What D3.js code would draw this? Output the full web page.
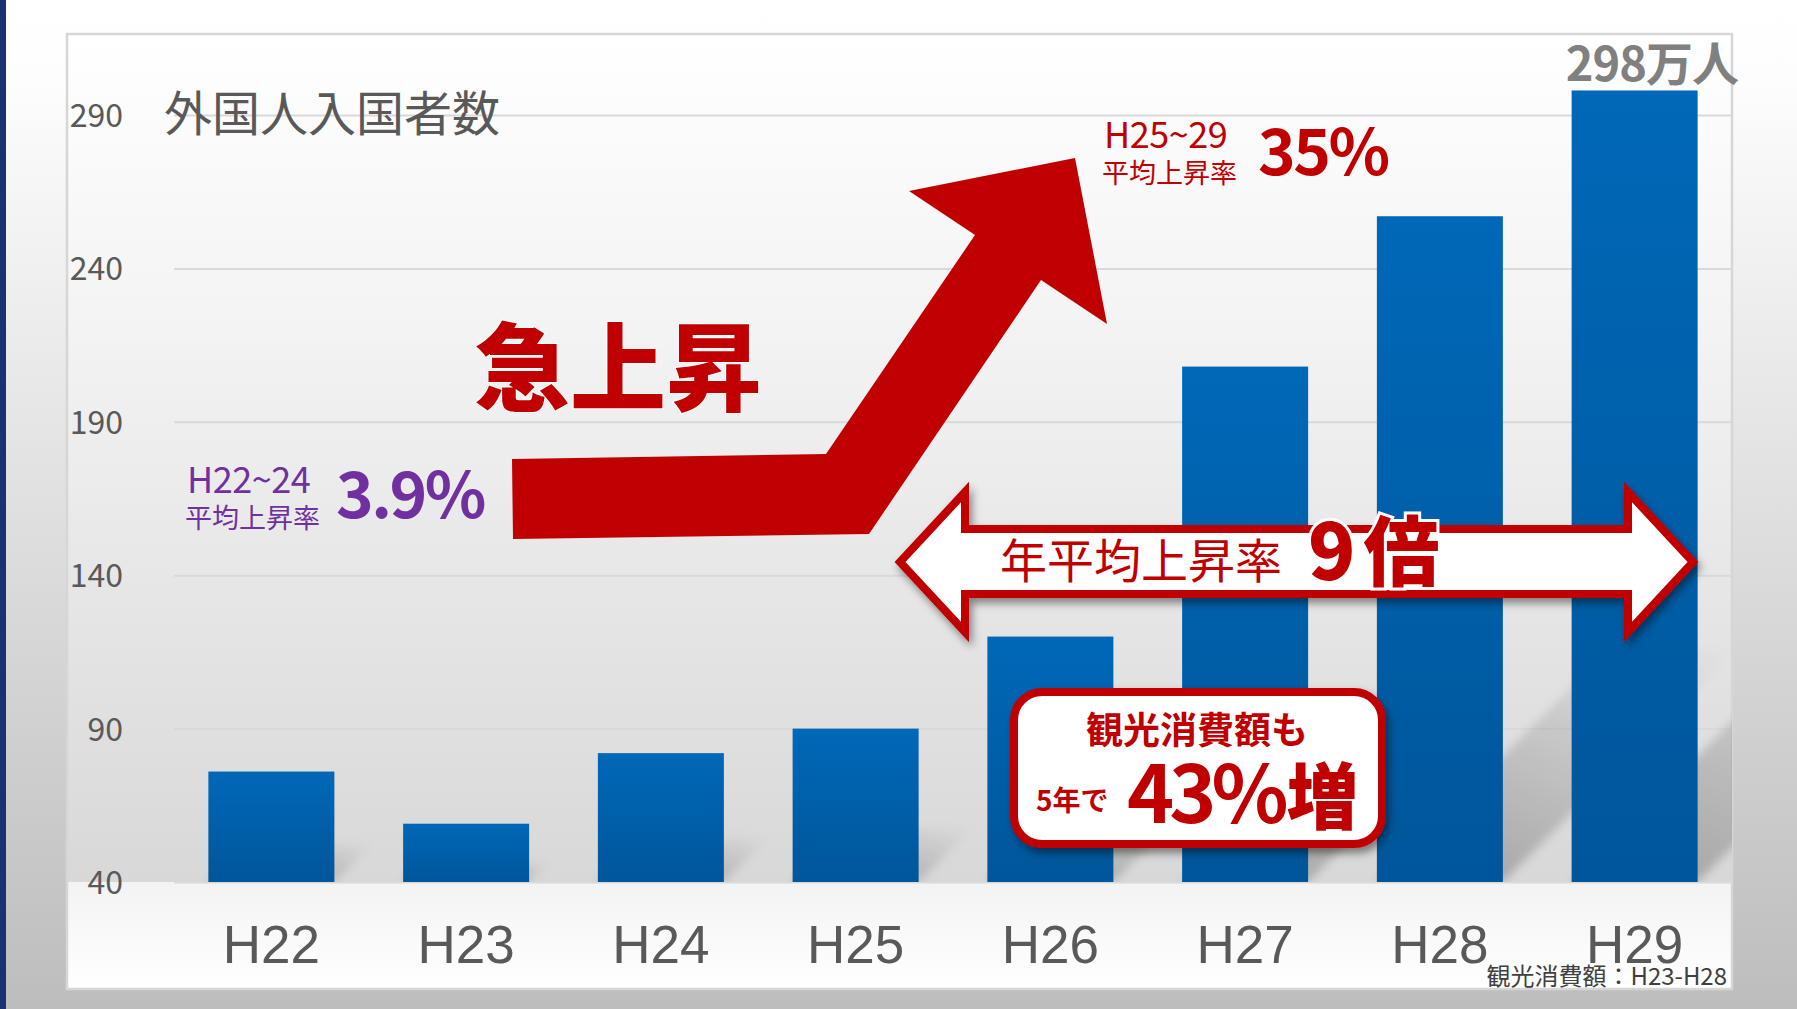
<!DOCTYPE html>
<html><head><meta charset="utf-8">
<script src="https://cdn.jsdelivr.net/npm/d3@7"></script>
<style>html,body{margin:0;padding:0;overflow:hidden;background:#fff}</style>
</head><body>
<svg id="c" width="1797" height="1009"></svg>
<script>
// ---------- data ----------
const categories = ["H22","H23","H24","H25","H26","H27","H28","H29"];
const visitors   = [76, 59, 82, 90, 120, 208, 257, 298];   // 万人
const yTicks     = [40, 90, 140, 190, 240, 290];
const yDomain    = [40, 290];
const titleText  = "外国人入国者数";
const lastLabel  = "298万人";

// ---------- layout ----------
const W = 1797, H = 1009;
const panel = {x: 67, y: 34, w: 1665, h: 955};
const plot  = {x0: 174, x1: 1732, yTop: 115, yBase: 882};
const CJK = "'Noto Sans CJK JP','Noto Sans',sans-serif";
const RED = "#c00000", PURPLE = "#7030a0", GREY = "#595959";

const svg = d3.select("#c");
const defs = svg.append("defs");

function lg(id, stops, x1=0,y1=0,x2=0,y2=1){
  const g = defs.append("linearGradient").attr("id",id)
    .attr("x1",x1).attr("y1",y1).attr("x2",x2).attr("y2",y2);
  stops.forEach(s=>g.append("stop").attr("offset",s[0]).attr("stop-color",s[1]).attr("stop-opacity",s[2]===undefined?1:s[2]));
}
lg("bgOuter", [[0,"#ffffff"],[0.08,"#fdfdfd"],[1,"#bdbdbd"]]);
lg("bgPanel", [[0,"#ffffff"],[0.35,"#f3f3f3"],[1,"#d8d8d8"]]);
lg("bgBelow", [[0,"#f3f3f3"],[1,"#ffffff"]]);
lg("barGrad", [[0,"#0068b8"],[1,"#00569a"]]);
lg("shadowGrad", [[0,"#000",0.26],[0.6,"#000",0.10],[1,"#000",0.0]], 0,1,1,0);

const f1 = defs.append("filter").attr("id","drop").attr("x","-10%").attr("y","-20%").attr("width","130%").attr("height","150%");
f1.append("feDropShadow").attr("dx",3).attr("dy",5).attr("stdDeviation",4).attr("flood-color","#000").attr("flood-opacity",0.45);
const f2 = defs.append("filter").attr("id","blur").attr("x","-30%").attr("y","-30%").attr("width","160%").attr("height","160%");
f2.append("feGaussianBlur").attr("stdDeviation",5);
defs.append("clipPath").attr("id","plotClip").append("rect")
  .attr("x",plot.x0).attr("y",panel.y).attr("width",plot.x1-plot.x0).attr("height",plot.yBase-panel.y);

// ---------- background ----------
svg.append("rect").attr("width",W).attr("height",H).attr("fill","url(#bgOuter)");
svg.append("rect").attr("x",0).attr("y",0).attr("width",6).attr("height",H).attr("fill","#1a3370");
svg.append("rect").attr("x",panel.x).attr("y",panel.y).attr("width",panel.w).attr("height",plot.yBase-panel.y).attr("fill","url(#bgPanel)");
svg.append("rect").attr("x",panel.x).attr("y",plot.yBase).attr("width",panel.w).attr("height",panel.y+panel.h-plot.yBase).attr("fill","url(#bgBelow)");
svg.append("rect").attr("x",panel.x).attr("y",panel.y).attr("width",panel.w).attr("height",panel.h)
  .attr("fill","none").attr("stroke","#d6d6d6").attr("stroke-width",2.5);

// ---------- scales ----------
const x = d3.scaleBand().domain(categories).range([plot.x0, plot.x1]).paddingInner(0.353).paddingOuter(0.1765);
const y = d3.scaleLinear().domain(yDomain).range([plot.yBase, plot.yTop]);

// gridlines
const grid = svg.append("g").attr("transform",`translate(${plot.x0},0)`)
  .call(d3.axisLeft(y).tickValues(yTicks).tickSize(-(plot.x1-plot.x0)).tickFormat(""));
grid.select(".domain").remove();
grid.selectAll("line").attr("stroke","#d9d9d9").attr("stroke-width",2);

// y tick labels
const yAx = svg.append("g").attr("transform","translate(123,0)")
  .call(d3.axisLeft(y).tickValues(yTicks).tickSize(0).tickPadding(0));
yAx.select(".domain").remove();
yAx.selectAll("text").attr("font-family",CJK).attr("font-size",32).attr("fill",GREY)
  .attr("dy","0.36em");

// bar shadows
const L = d => (plot.yBase - y(d)) * 0.35;
svg.append("g").attr("clip-path","url(#plotClip)").append("g").attr("filter","url(#blur)")
  .selectAll("path").data(visitors).join("path")
  .attr("d",(d,i)=>{
    const xl = x(categories[i]), xr = xl + x.bandwidth(), b = plot.yBase, l = L(d);
    return `M${xl},${b}L${xr},${b}L${xr+l},${b-l}L${xl+l},${b-l}Z`;
  })
  .attr("fill","url(#shadowGrad)");

// bars
svg.append("g").selectAll("rect").data(visitors).join("rect")
  .attr("x",(d,i)=>x(categories[i])).attr("width",x.bandwidth())
  .attr("y",d=>y(d)).attr("height",d=>plot.yBase-y(d))
  .attr("fill","url(#barGrad)");

// x axis labels
const xAx = svg.append("g").attr("transform",`translate(0,${plot.yBase})`)
  .call(d3.axisBottom(x).tickSize(0).tickPadding(0));
xAx.select(".domain").remove();
xAx.selectAll("text").attr("font-family","'Liberation Sans',Arial,sans-serif").attr("font-size",53)
  .attr("fill",GREY).attr("dy",null).attr("y",81);

// title
svg.append("text").attr("x",164).attr("y",131).text(titleText)
  .attr("font-family",CJK).attr("font-size",48).attr("fill",GREY);

// top value label
svg.append("text").attr("x",1738).attr("y",81).attr("text-anchor","end").text(lastLabel)
  .attr("font-family",CJK).attr("font-weight",700).attr("font-size",47).attr("fill","#808080")
  .attr("letter-spacing",-1);

// ---------- big red arrow ----------
const bigArrow = [[512,459],[826,454],[975,235],[909,191],[1075,158],[1107,324],[1041,280],[869,534],[513,539]];
svg.append("path").attr("d","M"+bigArrow.map(p=>p.join(",")).join("L")+"Z").attr("fill",RED);

svg.append("text").attr("x",474).attr("y",403).text("急上昇")
  .attr("font-family",CJK).attr("font-weight",900).attr("font-size",96).attr("fill",RED)
  .attr("stroke","#fff").attr("stroke-width",2).attr("paint-order","stroke");

// ---------- rate labels ----------
function rate(xs, yb, color, range, pct, pctX, pctY){
  svg.append("text").attr("x",xs).attr("y",yb).text(range)
    .attr("font-family",CJK).attr("font-size",36).attr("fill",color).attr("letter-spacing",-0.5);
  svg.append("text").attr("x",xs-2).attr("y",yb+35).text("平均上昇率")
    .attr("font-family",CJK).attr("font-size",27).attr("fill",color);
  svg.append("text").attr("x",pctX).attr("y",pctY).text(pct)
    .attr("font-family",CJK).attr("font-weight",700).attr("font-size",64).attr("fill",color).attr("letter-spacing",-2.5);
}
rate(187, 493, PURPLE, "H22~24", "3.9%", 336, 518);
rate(1104, 148, RED, "H25~29", "35%", 1258, 175);

// ---------- double arrow ----------
const dbl = [[900,562],[965,492],[965,529],[1628,529],[1628,492],[1693,562],[1628,632],[1628,594],[965,594],[965,632]];
svg.append("path").attr("d","M"+dbl.map(p=>p.join(",")).join("L")+"Z")
  .attr("fill","#fff").attr("stroke",RED).attr("stroke-width",8).attr("stroke-linejoin","miter")
  .attr("filter","url(#drop)");
svg.append("text").attr("x",1000).attr("y",578).text("年平均上昇率")
  .attr("font-family",CJK).attr("font-size",47).attr("fill",RED);
const t9 = svg.append("text").attr("x",1308).attr("y",580)
  .attr("font-family",CJK).attr("font-weight",900).attr("fill",RED)
  .attr("stroke","#fff").attr("stroke-width",6).attr("paint-order","stroke");
t9.append("tspan").attr("font-size",78).text("9");
t9.append("tspan").attr("font-size",76).attr("dx",8).text("倍");

// ---------- callout ----------
svg.append("rect").attr("x",1014).attr("y",692).attr("width",368).attr("height",152).attr("rx",28)
  .attr("fill","#fff").attr("stroke",RED).attr("stroke-width",8).attr("filter","url(#drop)");
svg.append("text").attr("x",1197).attr("y",744).attr("text-anchor","middle").text("観光消費額も")
  .attr("font-family",CJK).attr("font-weight",700).attr("font-size",37).attr("fill",RED);
svg.append("text").attr("x",1036).attr("y",811).text("5年で")
  .attr("font-family",CJK).attr("font-weight",700).attr("font-size",28).attr("fill",RED);
const t43 = svg.append("text").attr("x",1127).attr("y",823)
  .attr("font-family",CJK).attr("font-weight",700).attr("fill",RED);
t43.append("tspan").attr("font-size",80).attr("letter-spacing",-5).text("43%");
t43.append("tspan").attr("font-size",72).attr("font-weight",900).attr("dx",3).text("増");

// footnote
svg.append("text").attr("x",1727).attr("y",985).attr("text-anchor","end").text("観光消費額：H23-H28")
  .attr("font-family",CJK).attr("font-size",24).attr("fill","#404040");
</script>
</body></html>
